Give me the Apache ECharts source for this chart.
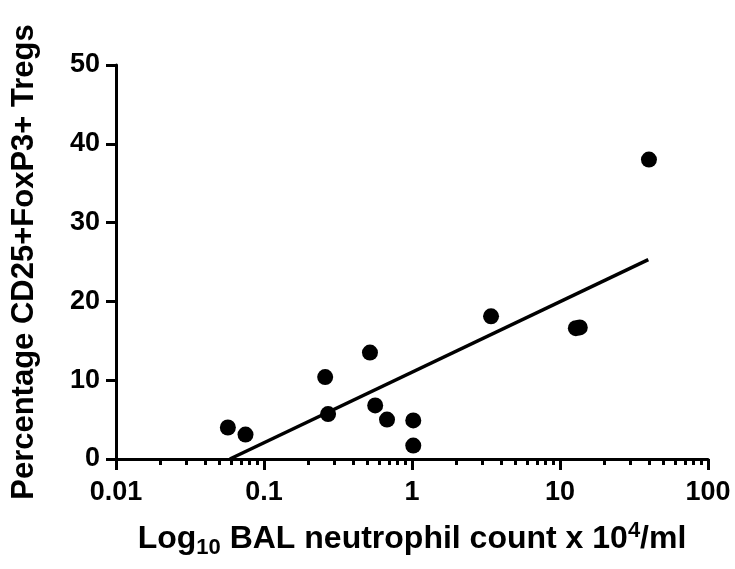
<!DOCTYPE html>
<html>
<head>
<meta charset="utf-8">
<script src="https://cdn.jsdelivr.net/npm/echarts@6/dist/echarts.min.js"></script>
<style>
  html, body { margin: 0; padding: 0; background: #fff; }
  #chart { width: 735px; height: 569px; }
</style>
</head>
<body>
<div id="chart"></div>
<script>
// neutrophil count (x10^4/ml) vs % Tregs
const neutrophil = [0.057, 0.075, 0.259, 0.271, 0.52, 0.564, 0.678, 1.02, 1.02, 3.42, 12.8, 13.6, 39.9];
const tregs = [4.0, 3.1, 10.4, 5.7, 13.5, 6.8, 5.0, 4.9, 1.7, 18.1, 16.6, 16.7, 38.0];
// regression line ends
const fitX = [0.0588, 39.5];
const fitY = [0, 25.3];
const majorTicks = [0.01, 0.1, 1, 10, 100];
const minorTicks = [];
[0.01, 0.1, 1, 10].forEach((d) => {
  for (let k = 2; k <= 9; k++) minorTicks.push(+(d * k).toPrecision(3));
});

const font = "Arial, 'Liberation Sans', Helvetica, sans-serif";
const chart = echarts.init(document.getElementById("chart"));

const option = {
  animation: false,
  grid: { left: 116, right: 27, top: 65, bottom: 110, containLabel: false, outerBoundsMode: "none" },
  xAxis: [
    {
      type: "log",
      logBase: 10,
      min: 0.01,
      max: 100,
      position: "bottom",
      axisLine: { show: true, lineStyle: { color: "#000", width: 3 } },
      axisTick: {
        show: true,
        length: 11,
        customValues: majorTicks,
        lineStyle: { color: "#000", width: 3 },
      },
      axisLabel: {
        customValues: majorTicks,
        margin: 20,
        color: "#000",
        fontSize: 27,
        fontWeight: "bold",
        fontFamily: font,
        formatter: (v) => String(v),
      },
      splitLine: { show: false },
      name: "{a|Log}{sub|10}{a| BAL neutrophil count x 10}{sup|4}{a|/ml}",
      nameLocation: "middle",
      nameGap: 60,
      nameTextStyle: {
        rich: {
          a: { fontSize: 32, fontWeight: "bold", fontFamily: font, color: "#000" },
          sub: { fontSize: 22, fontWeight: "bold", fontFamily: font, color: "#000", padding: [18, 0, 0, 0] },
          sup: { fontSize: 22, fontWeight: "bold", fontFamily: font, color: "#000", padding: [0, 0, 16, 0] },
        },
      },
    },
    {
      type: "log",
      logBase: 10,
      min: 0.01,
      max: 100,
      position: "bottom",
      axisLine: { show: false },
      axisTick: {
        show: true,
        length: 6,
        customValues: minorTicks,
        lineStyle: { color: "#000", width: 3 },
      },
      axisLabel: { show: false },
      splitLine: { show: false },
    },
  ],
  yAxis: {
    type: "value",
    min: 0,
    max: 50,
    interval: 10,
    axisLine: { show: true, lineStyle: { color: "#000", width: 3 } },
    axisTick: { show: true, length: 10, lineStyle: { color: "#000", width: 3 } },
    axisLabel: {
      margin: 16,
      color: "#000",
      fontSize: 27,
      fontWeight: "bold",
      fontFamily: font,
    },
    splitLine: { show: false },
    name: "Percentage CD25+FoxP3+ Tregs",
    nameLocation: "middle",
    nameGap: 76,
    nameTextStyle: { fontSize: 31, fontWeight: "bold", fontFamily: font, color: "#000" },
  },
  series: [
    {
      type: "line",
      xAxisIndex: 0,
      data: fitX.map((x, i) => [x, fitY[i]]),
      symbol: "none",
      lineStyle: { color: "#000", width: 3.5 },
      z: 2,
    },
    {
      type: "scatter",
      xAxisIndex: 0,
      data: neutrophil.map((x, i) => [x, tregs[i]]),
      symbol: "circle",
      symbolSize: 16,
      itemStyle: { color: "#000", opacity: 1 },
      z: 3,
    },
  ],
};
chart.setOption(option);
</script>
</body>
</html>
